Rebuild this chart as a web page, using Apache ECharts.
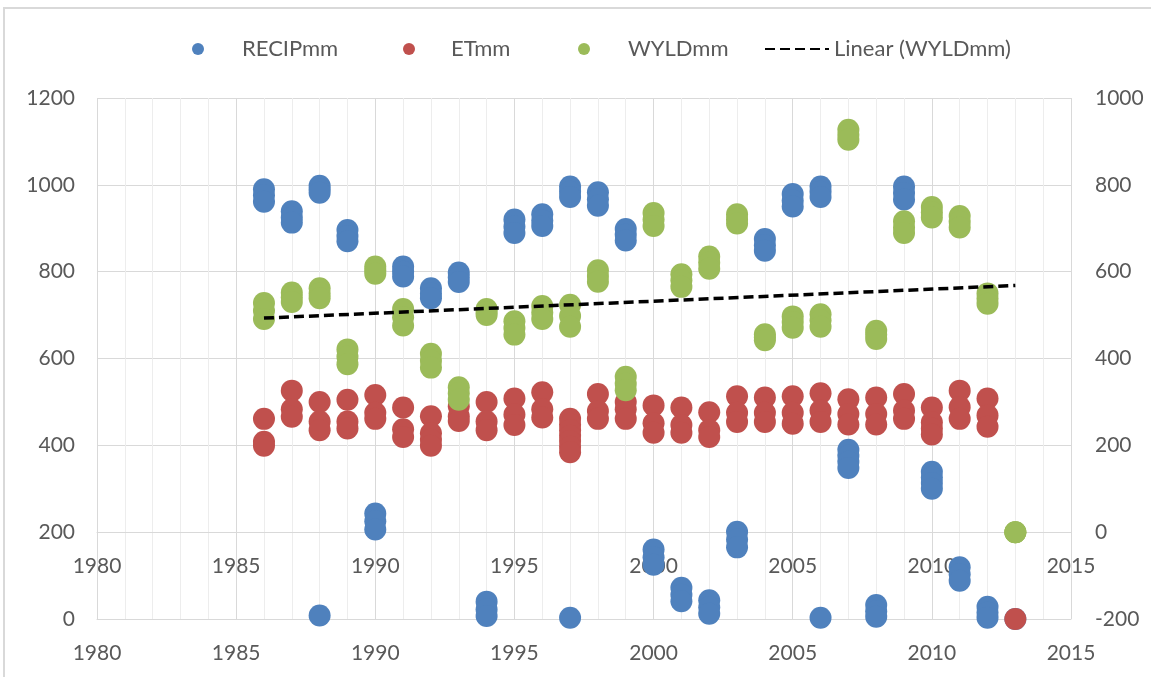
<!DOCTYPE html>
<html>
<head>
<meta charset="utf-8">
<title>RECIPmm / ETmm / WYLDmm</title>
<script src="https://cdn.jsdelivr.net/npm/echarts@6/dist/echarts.min.js"></script>
<style>
  html, body { margin: 0; padding: 0; background: #fff; }
  #chart { width: 1151px; height: 677px; }
</style>
</head>
<body>
<div id="chart"></div>
<script>
// years shown on the x axis
const years = [1986, 1987, 1988, 1989, 1990, 1991, 1992, 1993, 1994, 1995,
               1996, 1997, 1998, 1999, 2000, 2001, 2002, 2003, 2004, 2005,
               2006, 2007, 2008, 2009, 2010, 2011, 2012, 2013];

// several values per year (one list per year, same order as years)
const recipMm = [
  [990, 976, 961], [939, 925, 913], [998, 990, 982, 8], [896, 882, 870], [243, 225, 206],
  [812, 800, 789], [762, 750, 739], [798, 787, 776], [40, 22, 7], [920, 904, 889],
  [932, 918, 905], [996, 984, 972, 3], [983, 967, 952], [898, 885, 872], [160, 142, 125],
  [72, 56, 41], [43, 27, 12], [201, 183, 165], [875, 861, 848], [979, 964, 950],
  [996, 984, 972, 3], [390, 376, 362, 348], [32, 18, 5], [996, 981, 966], [339, 326, 313, 300],
  [119, 103, 88], [28, 15, 3], [0]
];
const etMm = [
  [461, 408, 399], [526, 483, 466], [500, 455, 435], [505, 455, 439], [516, 475, 461],
  [487, 437, 419], [467, 428, 413, 399], [490, 467, 456], [500, 455, 435], [508, 471, 447],
  [522, 483, 464], [461, 448, 435, 422, 410, 397, 384], [518, 479, 461], [500, 483, 461],
  [492, 451, 429], [487, 447, 429], [476, 435, 419], [513, 475, 454], [510, 475, 454],
  [513, 475, 450], [520, 480, 454], [506, 472, 448], [510, 472, 448], [518, 480, 461],
  [487, 453, 439, 425], [526, 488, 461], [508, 469, 443], [0]
];
// WYLDmm is plotted on the secondary (right) axis, three values per year
const wyldMm = [
  [528, 510, 491], [552, 541, 530], [562, 550, 539], [421, 404, 387], [612, 603, 595],
  [514, 495, 476], [411, 395, 379], [334, 320, 305], [514, 507, 500], [486, 470, 455],
  [521, 506, 491], [524, 498, 473], [603, 590, 577], [358, 342, 327], [735, 720, 705],
  [594, 580, 565], [635, 621, 607], [732, 721, 711], [456, 449, 442], [497, 484, 471],
  [502, 488, 473], [927, 915, 904], [464, 455, 445], [716, 702, 689], [749, 737, 725],
  [728, 715, 702], [550, 538, 526], [0, 0, 0]
];

// axis ranges [min, max, step]
const xRange = [1980, 2015, 5];
const leftRange = [0, 1200, 200];
const rightRange = [-200, 1000, 200];

const colors = { recip: '#4f81bd', et: '#c0504d', wyld: '#9bbb59', trend: '#000000' };
const textColor = '#595959';
const gridColor = '#d9d9d9';
const fontFamily = 'Lato, "Open Sans", sans-serif';

const W = 1151, H = 677;
const grid = { left: 97, right: 80, top: 98, bottom: 58 };

function toPoints(vals) {
  const out = [];
  years.forEach(function (y, i) {
    vals[i].forEach(function (v) { out.push([y, v]); });
  });
  return out;
}

// least squares line, like Excel's "Linear" trendline
function linearTrend(points) {
  const n = points.length;
  let mx = 0, my = 0;
  points.forEach(function (p) { mx += p[0]; my += p[1]; });
  mx /= n; my /= n;
  let sxy = 0, sxx = 0;
  points.forEach(function (p) {
    sxy += (p[0] - mx) * (p[1] - my);
    sxx += (p[0] - mx) * (p[0] - mx);
  });
  const slope = sxy / sxx;
  const x0 = years[0], x1 = years[years.length - 1];
  return [[x0, my + slope * (x0 - mx)], [x1, my + slope * (x1 - mx)]];
}

const recipData = toPoints(recipMm);
const etData = toPoints(etMm);
const wyldData = toPoints(wyldMm);
const trendData = linearTrend(wyldData);

// secondary x axis crosses the right axis at 0
const plotH = H - grid.top - grid.bottom;
const secondaryOffset = -plotH * (0 - rightRange[0]) / (rightRange[1] - rightRange[0]);

const chart = echarts.init(document.getElementById('chart'));

function plain(v) { return String(v); }

const axisLabel = { color: textColor, fontSize: 21, fontFamily: fontFamily, formatter: plain };

function xAxisDef(extra) {
  return Object.assign({
    type: 'value',
    min: xRange[0],
    max: xRange[1],
    interval: xRange[2],
    position: 'bottom',
    axisTick: { show: false },
    axisLabel: Object.assign({ margin: 24, showMinLabel: true, showMaxLabel: true }, axisLabel)
  }, extra);
}

function legendDef(name, left, pad, icon, w, h, hideSymbol) {
  const l = {
    data: [name],
    left: left,
    top: 33,
    itemWidth: w,
    itemHeight: h,
    selectedMode: false,
    textStyle: { color: textColor, fontSize: 22, fontFamily: fontFamily, padding: [0, 0, 0, pad] }
  };
  if (icon) l.icon = icon;
  if (hideSymbol) l.itemStyle = { opacity: 0 };
  return l;
}

const option = {
  backgroundColor: '#ffffff',
  animation: false,
  textStyle: { fontFamily: fontFamily },
  graphic: [{
    type: 'rect',
    shape: { x: 4, y: 8, width: 1300, height: 800 },
    style: { fill: 'none', stroke: gridColor, lineWidth: 2 },
    silent: true
  }],
  legend: [
    legendDef('RECIPmm', 187, 33, 'circle', 12, 12),
    legendDef('ETmm', 398, 31, 'circle', 12, 12),
    legendDef('WYLDmm', 573, 33, 'circle', 12, 12),
    legendDef('Linear (WYLDmm)', 759, 0, null, 64, 14, true)
  ],
  grid: { left: grid.left, right: grid.right, top: grid.top, bottom: grid.bottom, containLabel: false },
  xAxis: [
    xAxisDef({
      axisLine: { show: true, onZero: false, lineStyle: { color: gridColor, width: 1 } },
      splitLine: { show: true, lineStyle: { color: gridColor, width: 1 } },
      minorTick: { show: false, splitNumber: 5 },
      minorSplitLine: { show: true, lineStyle: { color: '#ededed', width: 1 } }
    }),
    xAxisDef({
      offset: secondaryOffset,
      axisLine: { show: true, onZero: false, lineStyle: { color: gridColor, width: 1 } },
      splitLine: { show: false }
    })
  ],
  yAxis: [
    {
      type: 'value',
      position: 'left',
      min: leftRange[0],
      max: leftRange[1],
      interval: leftRange[2],
      axisLine: { show: false, onZero: false },
      axisTick: { show: false },
      splitLine: { show: true, lineStyle: { color: gridColor, width: 1 } },
      axisLabel: Object.assign({ margin: 22 }, axisLabel)
    },
    {
      type: 'value',
      position: 'right',
      min: rightRange[0],
      max: rightRange[1],
      interval: rightRange[2],
      axisLine: { show: false, onZero: false },
      axisTick: { show: false },
      splitLine: { show: false },
      axisLabel: Object.assign({ margin: 24 }, axisLabel)
    }
  ],
  series: [
    {
      name: 'RECIPmm',
      type: 'scatter',
      xAxisIndex: 0,
      yAxisIndex: 0,
      symbolSize: 22,
      itemStyle: { color: colors.recip, opacity: 1 },
      data: recipData
    },
    {
      name: 'ETmm',
      type: 'scatter',
      xAxisIndex: 0,
      yAxisIndex: 0,
      symbolSize: 22,
      itemStyle: { color: colors.et, opacity: 1 },
      data: etData
    },
    {
      name: 'WYLDmm',
      type: 'scatter',
      xAxisIndex: 1,
      yAxisIndex: 1,
      symbolSize: 22,
      itemStyle: { color: colors.wyld, opacity: 1 },
      data: wyldData
    },
    {
      name: 'Linear (WYLDmm)',
      type: 'line',
      xAxisIndex: 1,
      yAxisIndex: 1,
      symbol: 'none',
      z: 5,
      itemStyle: { color: colors.trend },
      lineStyle: { color: colors.trend, width: 3.5, type: [10, 5] },
      data: trendData
    }
  ]
};

chart.setOption(option);
</script>
</body>
</html>
